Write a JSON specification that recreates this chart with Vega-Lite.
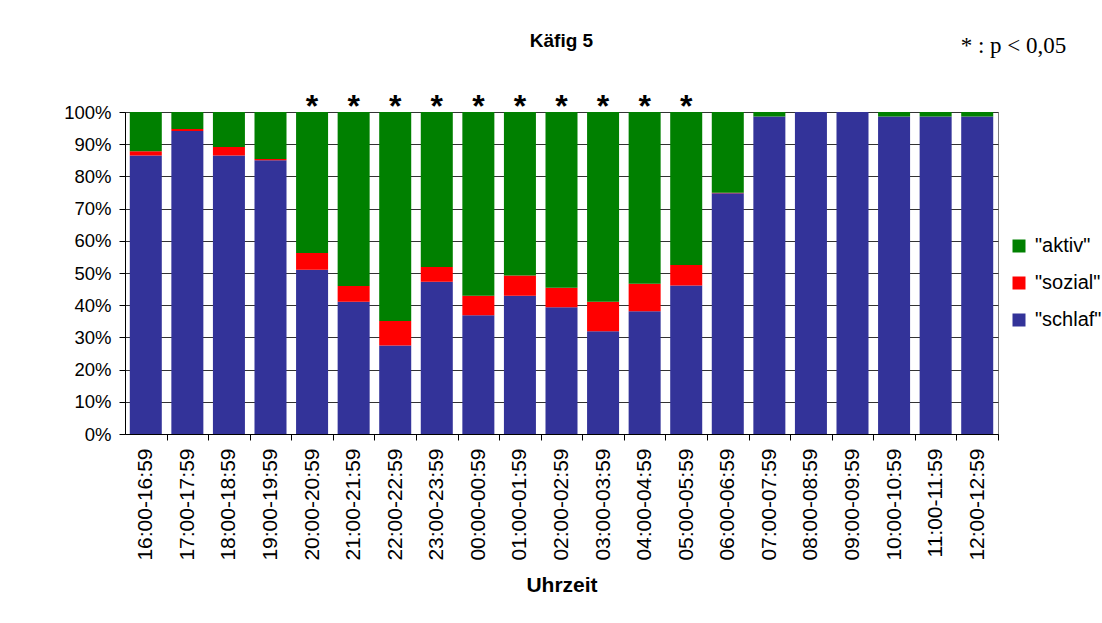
{
  "$schema": "https://vega.github.io/schema/vega-lite/v6.json",
  "width": 873,
  "height": 322,
  "autosize": {"type": "none"},
  "padding": {"left": 125, "top": 112, "right": 104, "bottom": 189},
  "background": "white",
  "datasets": {
    "anteile": [
      {"zeit": "16:00-16:59", "kategorie": "schlaf", "rang": 1, "anteil": 86.5},
      {"zeit": "16:00-16:59", "kategorie": "sozial", "rang": 2, "anteil": 1.3},
      {"zeit": "16:00-16:59", "kategorie": "aktiv", "rang": 3, "anteil": 12.2},
      {"zeit": "17:00-17:59", "kategorie": "schlaf", "rang": 1, "anteil": 94.1},
      {"zeit": "17:00-17:59", "kategorie": "sozial", "rang": 2, "anteil": 0.6},
      {"zeit": "17:00-17:59", "kategorie": "aktiv", "rang": 3, "anteil": 5.3},
      {"zeit": "18:00-18:59", "kategorie": "schlaf", "rang": 1, "anteil": 86.5},
      {"zeit": "18:00-18:59", "kategorie": "sozial", "rang": 2, "anteil": 2.6},
      {"zeit": "18:00-18:59", "kategorie": "aktiv", "rang": 3, "anteil": 10.9},
      {"zeit": "19:00-19:59", "kategorie": "schlaf", "rang": 1, "anteil": 85.0},
      {"zeit": "19:00-19:59", "kategorie": "sozial", "rang": 2, "anteil": 0.4},
      {"zeit": "19:00-19:59", "kategorie": "aktiv", "rang": 3, "anteil": 14.6},
      {"zeit": "20:00-20:59", "kategorie": "schlaf", "rang": 1, "anteil": 51.0},
      {"zeit": "20:00-20:59", "kategorie": "sozial", "rang": 2, "anteil": 5.2},
      {"zeit": "20:00-20:59", "kategorie": "aktiv", "rang": 3, "anteil": 43.8},
      {"zeit": "21:00-21:59", "kategorie": "schlaf", "rang": 1, "anteil": 41.1},
      {"zeit": "21:00-21:59", "kategorie": "sozial", "rang": 2, "anteil": 4.9},
      {"zeit": "21:00-21:59", "kategorie": "aktiv", "rang": 3, "anteil": 54.0},
      {"zeit": "22:00-22:59", "kategorie": "schlaf", "rang": 1, "anteil": 27.5},
      {"zeit": "22:00-22:59", "kategorie": "sozial", "rang": 2, "anteil": 7.6},
      {"zeit": "22:00-22:59", "kategorie": "aktiv", "rang": 3, "anteil": 64.9},
      {"zeit": "23:00-23:59", "kategorie": "schlaf", "rang": 1, "anteil": 47.3},
      {"zeit": "23:00-23:59", "kategorie": "sozial", "rang": 2, "anteil": 4.6},
      {"zeit": "23:00-23:59", "kategorie": "aktiv", "rang": 3, "anteil": 48.1},
      {"zeit": "00:00-00:59", "kategorie": "schlaf", "rang": 1, "anteil": 36.9},
      {"zeit": "00:00-00:59", "kategorie": "sozial", "rang": 2, "anteil": 6.0},
      {"zeit": "00:00-00:59", "kategorie": "aktiv", "rang": 3, "anteil": 57.1},
      {"zeit": "01:00-01:59", "kategorie": "schlaf", "rang": 1, "anteil": 42.9},
      {"zeit": "01:00-01:59", "kategorie": "sozial", "rang": 2, "anteil": 6.3},
      {"zeit": "01:00-01:59", "kategorie": "aktiv", "rang": 3, "anteil": 50.8},
      {"zeit": "02:00-02:59", "kategorie": "schlaf", "rang": 1, "anteil": 39.4},
      {"zeit": "02:00-02:59", "kategorie": "sozial", "rang": 2, "anteil": 6.0},
      {"zeit": "02:00-02:59", "kategorie": "aktiv", "rang": 3, "anteil": 54.6},
      {"zeit": "03:00-03:59", "kategorie": "schlaf", "rang": 1, "anteil": 31.9},
      {"zeit": "03:00-03:59", "kategorie": "sozial", "rang": 2, "anteil": 9.2},
      {"zeit": "03:00-03:59", "kategorie": "aktiv", "rang": 3, "anteil": 58.9},
      {"zeit": "04:00-04:59", "kategorie": "schlaf", "rang": 1, "anteil": 38.1},
      {"zeit": "04:00-04:59", "kategorie": "sozial", "rang": 2, "anteil": 8.6},
      {"zeit": "04:00-04:59", "kategorie": "aktiv", "rang": 3, "anteil": 53.3},
      {"zeit": "05:00-05:59", "kategorie": "schlaf", "rang": 1, "anteil": 46.1},
      {"zeit": "05:00-05:59", "kategorie": "sozial", "rang": 2, "anteil": 6.4},
      {"zeit": "05:00-05:59", "kategorie": "aktiv", "rang": 3, "anteil": 47.5},
      {"zeit": "06:00-06:59", "kategorie": "schlaf", "rang": 1, "anteil": 74.8},
      {"zeit": "06:00-06:59", "kategorie": "sozial", "rang": 2, "anteil": 0.1},
      {"zeit": "06:00-06:59", "kategorie": "aktiv", "rang": 3, "anteil": 25.1},
      {"zeit": "07:00-07:59", "kategorie": "schlaf", "rang": 1, "anteil": 98.6},
      {"zeit": "07:00-07:59", "kategorie": "sozial", "rang": 2, "anteil": 0},
      {"zeit": "07:00-07:59", "kategorie": "aktiv", "rang": 3, "anteil": 1.4},
      {"zeit": "08:00-08:59", "kategorie": "schlaf", "rang": 1, "anteil": 100},
      {"zeit": "08:00-08:59", "kategorie": "sozial", "rang": 2, "anteil": 0},
      {"zeit": "08:00-08:59", "kategorie": "aktiv", "rang": 3, "anteil": 0},
      {"zeit": "09:00-09:59", "kategorie": "schlaf", "rang": 1, "anteil": 100},
      {"zeit": "09:00-09:59", "kategorie": "sozial", "rang": 2, "anteil": 0},
      {"zeit": "09:00-09:59", "kategorie": "aktiv", "rang": 3, "anteil": 0},
      {"zeit": "10:00-10:59", "kategorie": "schlaf", "rang": 1, "anteil": 98.6},
      {"zeit": "10:00-10:59", "kategorie": "sozial", "rang": 2, "anteil": 0},
      {"zeit": "10:00-10:59", "kategorie": "aktiv", "rang": 3, "anteil": 1.4},
      {"zeit": "11:00-11:59", "kategorie": "schlaf", "rang": 1, "anteil": 98.6},
      {"zeit": "11:00-11:59", "kategorie": "sozial", "rang": 2, "anteil": 0},
      {"zeit": "11:00-11:59", "kategorie": "aktiv", "rang": 3, "anteil": 1.4},
      {"zeit": "12:00-12:59", "kategorie": "schlaf", "rang": 1, "anteil": 98.6},
      {"zeit": "12:00-12:59", "kategorie": "sozial", "rang": 2, "anteil": 0},
      {"zeit": "12:00-12:59", "kategorie": "aktiv", "rang": 3, "anteil": 1.4}
    ],
    "signifikanz": [
      {"zeit": "16:00-16:59", "sig": ""},
      {"zeit": "17:00-17:59", "sig": ""},
      {"zeit": "18:00-18:59", "sig": ""},
      {"zeit": "19:00-19:59", "sig": ""},
      {"zeit": "20:00-20:59", "sig": "*"},
      {"zeit": "21:00-21:59", "sig": "*"},
      {"zeit": "22:00-22:59", "sig": "*"},
      {"zeit": "23:00-23:59", "sig": "*"},
      {"zeit": "00:00-00:59", "sig": "*"},
      {"zeit": "01:00-01:59", "sig": "*"},
      {"zeit": "02:00-02:59", "sig": "*"},
      {"zeit": "03:00-03:59", "sig": "*"},
      {"zeit": "04:00-04:59", "sig": "*"},
      {"zeit": "05:00-05:59", "sig": "*"},
      {"zeit": "06:00-06:59", "sig": ""},
      {"zeit": "07:00-07:59", "sig": ""},
      {"zeit": "08:00-08:59", "sig": ""},
      {"zeit": "09:00-09:59", "sig": ""},
      {"zeit": "10:00-10:59", "sig": ""},
      {"zeit": "11:00-11:59", "sig": ""},
      {"zeit": "12:00-12:59", "sig": ""}
    ]
  },
  "layer": [
    {
      "data": {"name": "anteile"},
      "mark": {"type": "bar"},
      "encoding": {
        "x": {
          "field": "zeit",
          "type": "nominal",
          "sort": null,
          "scale": {"paddingInner": 0.23, "paddingOuter": 0.115},
          "axis": {
            "orient": "bottom",
            "title": "Uhrzeit",
            "titleFont": "Liberation Sans",
            "titleFontSize": 21,
            "titleFontWeight": "bold",
            "titleColor": "black",
            "titlePadding": 14,
            "labelAngle": -90,
            "labelFont": "Liberation Sans",
            "labelFontSize": 21,
            "labelColor": "black",
            "labelPadding": 8,
            "tickSize": 6,
            "tickColor": "black",
            "domainColor": "black",
            "tickOffset": 20.786,
            "labelOffset": -20.786,
            "grid": false
          }
        },
        "y": {
          "field": "anteil",
          "type": "quantitative",
          "stack": "normalize",
          "scale": {"domain": [0, 1], "nice": false},
          "axis": {
            "title": null,
            "values": [0, 0.1, 0.2, 0.3, 0.4, 0.5, 0.6, 0.7, 0.8, 0.9, 1],
            "format": ".0%",
            "labelFont": "Liberation Sans",
            "labelFontSize": 18.5,
            "labelColor": "black",
            "labelPadding": 8,
            "tickSize": 6,
            "tickColor": "black",
            "domainColor": "black",
            "grid": true,
            "gridColor": "#333333",
            "gridWidth": 1
          }
        },
        "color": {
          "field": "kategorie",
          "type": "nominal",
          "scale": {"domain": ["aktiv", "sozial", "schlaf"], "range": ["#008000", "#FF0000", "#333399"]},
          "legend": {
            "title": null,
            "orient": "none",
            "legendX": 884,
            "legendY": 124,
            "padding": 0,
            "symbolType": "square",
            "symbolSize": 169,
            "symbolStrokeWidth": 0,
            "symbolOpacity": 1,
            "labelFont": "Liberation Sans",
            "labelFontSize": 20,
            "labelColor": "black",
            "labelOffset": 6,
            "rowPadding": 17,
            "labelExpr": "'\"' + datum.label + '\"'"
          }
        },
        "order": {"field": "rang", "type": "quantitative"}
      }
    },
    {
      "data": {"name": "signifikanz"},
      "mark": {"type": "text", "font": "Liberation Sans", "fontSize": 32, "fontWeight": "bold", "baseline": "alphabetic", "dy": 5, "color": "black"},
      "encoding": {
        "x": {
          "field": "zeit",
          "type": "nominal",
          "sort": null,
          "axis": {
            "orient": "top",
            "title": "Käfig 5",
            "titleFont": "Liberation Sans",
            "titleFontSize": 19,
            "titleFontWeight": "bold",
            "titleColor": "black",
            "titleX": 436,
            "titleY": -72,
            "titleAlign": "center",
            "titleBaseline": "middle",
            "titleAngle": 0,
            "labels": false,
            "ticks": false,
            "domain": false,
            "grid": false
          }
        },
        "y": {
          "datum": 1,
          "type": "quantitative",
          "axis": {
            "orient": "right",
            "title": "* : p < 0,05",
            "titleFont": "Liberation Serif",
            "titleFontSize": 23,
            "titleFontWeight": "normal",
            "titleColor": "black",
            "titleX": 15,
            "titleY": -67,
            "titleAlign": "center",
            "titleBaseline": "middle",
            "titleAngle": 0,
            "labels": false,
            "ticks": false,
            "domain": false,
            "grid": false
          }
        },
        "text": {"field": "sig"}
      }
    }
  ],
  "resolve": {"axis": {"x": "independent", "y": "independent"}},
  "config": {
    "view": {"stroke": "#808080"}
  }
}
